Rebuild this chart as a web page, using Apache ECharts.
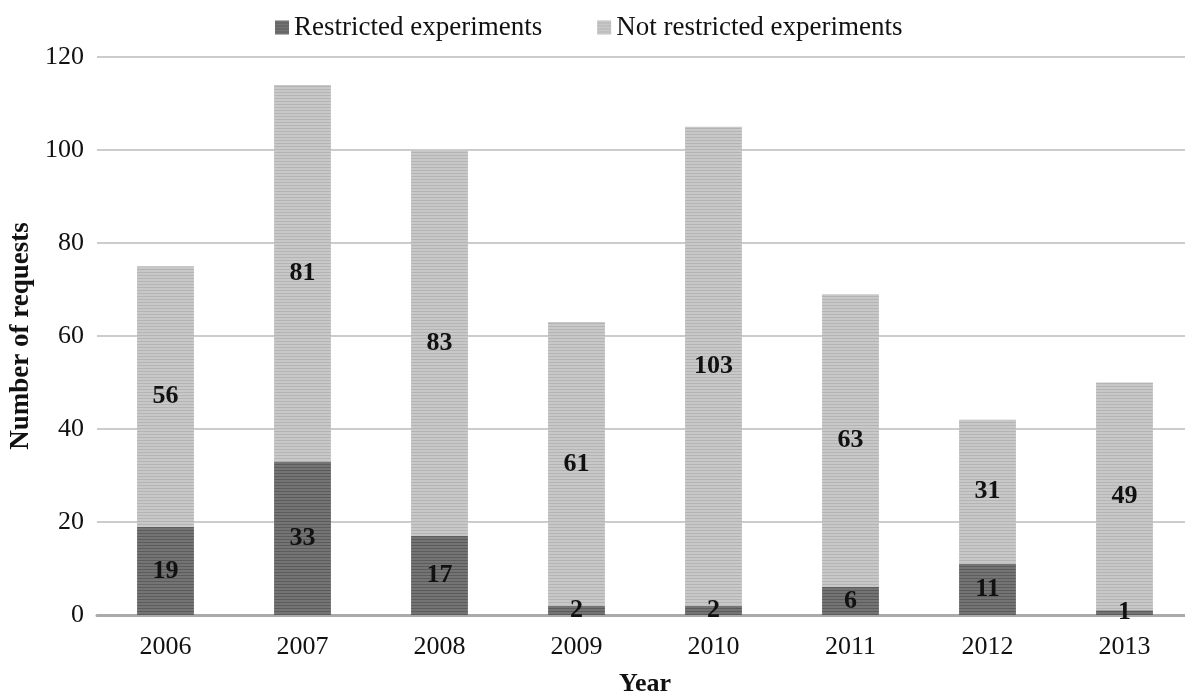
<!DOCTYPE html>
<html>
<head>
<meta charset="utf-8">
<script src="https://cdn.jsdelivr.net/npm/echarts@6/dist/echarts.min.js"></script>
<style>
  html, body { margin: 0; padding: 0; background: #ffffff; }
  #chart { width: 1185px; height: 696px; }
</style>
</head>
<body>
<div id="chart"></div>
<script>
// Requests per year, split by restriction status
const years = ['2006', '2007', '2008', '2009', '2010', '2011', '2012', '2013'];
const restricted = [19, 33, 17, 2, 2, 6, 11, 1];
const notRestricted = [56, 81, 83, 61, 103, 63, 31, 49];
const yTicks = [0, 20, 40, 60, 80, 100, 120];

const FONT = '"Liberation Serif", "Times New Roman", serif';

// Horizontal stripe fill: two base rows, one darker row
function stripes(base, line) {
  const c = document.createElement('canvas');
  c.width = 4; c.height = 3;
  const ctx = c.getContext('2d');
  ctx.fillStyle = base; ctx.fillRect(0, 0, 4, 3);
  ctx.fillStyle = line; ctx.fillRect(0, 2, 4, 1);
  return { image: c, repeat: 'repeat' };
}

const darkFill = stripes('#747474', '#5c5c5c');
const lightFill = stripes('#c8c8c8', '#b4b4b4');

const labelStyle = {
  show: true,
  position: 'inside',
  color: '#111',
  fontFamily: FONT,
  fontWeight: 'bold',
  fontSize: 26
};

const chart = echarts.init(document.getElementById('chart'), null, { renderer: 'canvas' });
chart.setOption({
  animation: false,
  backgroundColor: '#ffffff',
  legend: {
    top: 9,
    left: 270,
    itemWidth: 14,
    itemHeight: 14,
    itemGap: 55,
    icon: 'rect',
    textStyle: { fontFamily: FONT, fontSize: 27, color: '#111' },
    data: ['Restricted experiments', 'Not restricted experiments']
  },
  grid: { left: 97, right: -8, top: 57, bottom: 81, containLabel: false, outerBoundsMode: 'none' },
  xAxis: {
    type: 'category',
    data: years,
    name: 'Year',
    nameLocation: 'middle',
    nameGap: 56,
    nameTextStyle: { fontFamily: FONT, fontSize: 26, fontWeight: 'bold', color: '#111' },
    axisLine: { lineStyle: { color: '#aaaaaa', width: 3 } },
    axisTick: { show: false },
    axisLabel: { fontFamily: FONT, fontSize: 26, color: '#111', margin: 19 }
  },
  yAxis: {
    type: 'value',
    min: yTicks[0],
    max: yTicks[yTicks.length - 1],
    interval: yTicks[1] - yTicks[0],
    name: 'Number of requests',
    nameLocation: 'middle',
    nameGap: 62,
    nameRotate: 90,
    nameTextStyle: { fontFamily: FONT, fontSize: 27, fontWeight: 'bold', color: '#111' },
    axisLine: { show: false },
    axisTick: { show: false },
    axisLabel: { fontFamily: FONT, fontSize: 26, color: '#111', margin: 13 },
    splitLine: { lineStyle: { color: '#cccccc', width: 2 } }
  },
  series: [
    {
      name: 'Restricted experiments',
      type: 'bar',
      stack: 'total',
      barWidth: '41.5%',
      data: restricted,
      itemStyle: { color: darkFill },
      label: labelStyle
    },
    {
      name: 'Not restricted experiments',
      type: 'bar',
      stack: 'total',
      barWidth: '41.5%',
      data: notRestricted,
      itemStyle: { color: lightFill },
      label: labelStyle
    }
  ]
});
</script>
</body>
</html>
